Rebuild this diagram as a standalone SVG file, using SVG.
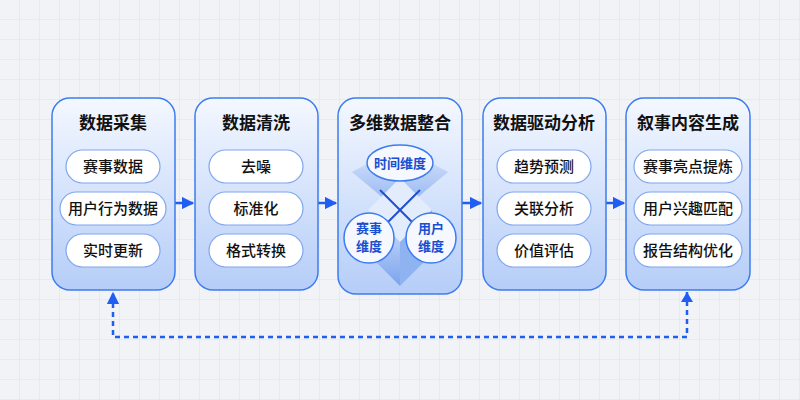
<svg xmlns="http://www.w3.org/2000/svg" width="800" height="400" viewBox="0 0 800 400">
<defs>
<pattern id="grid" width="20" height="20" patternUnits="userSpaceOnUse"><path d="M20 0V20H0" fill="none" stroke="#dde2ea" stroke-width="1"/></pattern>
<linearGradient id="box" x1="0" y1="0" x2="0" y2="1"><stop offset="0" stop-color="#f4f8ff"/><stop offset="1" stop-color="#b5cdf8"/></linearGradient>
<linearGradient id="face" x1="0" y1="0" x2="0" y2="1"><stop offset="0" stop-color="#dbe7fc"/><stop offset="1" stop-color="#7aa3ee"/></linearGradient>
<marker id="ah" viewBox="0 0 10 10" refX="9" refY="5" markerWidth="5" markerHeight="5" orient="auto"><path d="M0 0L10 5L0 10z" fill="#1f5ef0"/></marker>
<style>
.box{fill:url(#box);stroke:#3d7cf0;stroke-width:1.5}
.pill{fill:#fff;stroke:#7fa6ee;stroke-width:1.2}
.t{font-family:"Noto Sans CJK SC","Noto Sans",sans-serif;text-anchor:middle;fill:#111}
.h{font-size:17px;font-weight:700}
.p{font-size:15px;font-weight:500}
.b{font-size:13px;font-weight:700;fill:#1a4fd0}
.c{stroke:#1f5ef0;stroke-width:2.5;fill:none}
</style>
</defs>
<rect width="800" height="400" fill="#f1f3f7"/>
<rect width="800" height="400" fill="url(#grid)"/>
<g id="connectors">
<line class="c" x1="175" y1="203" x2="193" y2="203" marker-end="url(#ah)"/>
<line class="c" x1="318" y1="203" x2="336" y2="203" marker-end="url(#ah)"/>
<line class="c" x1="462" y1="203" x2="481" y2="203" marker-end="url(#ah)"/>
<line class="c" x1="606" y1="203" x2="624" y2="203" marker-end="url(#ah)"/>
<path class="c" d="M687 292V337H113V293" stroke-width="2" stroke-dasharray="5 4" marker-end="url(#ah)"/>
<path d="M687 292l-6 10h12z" fill="#1f5ef0"/>
</g>
<g id="n1"><rect class="box" x="52" y="98" width="123" height="192" rx="18"/>
<text class="t h" x="113" y="129">数据采集</text>
<rect class="pill" x="66" y="150" width="94" height="33" rx="16.5"/><text class="t p" x="113" y="172">赛事数据</text>
<rect class="pill" x="60" y="192" width="106" height="33" rx="16.5"/><text class="t p" x="113" y="214">用户行为数据</text>
<rect class="pill" x="66" y="234" width="94" height="33" rx="16.5"/><text class="t p" x="113" y="256">实时更新</text></g>
<g id="n2"><rect class="box" x="195" y="98" width="123" height="192" rx="18"/>
<text class="t h" x="256" y="129">数据清洗</text>
<rect class="pill" x="209" y="150" width="94" height="33" rx="16.5"/><text class="t p" x="256" y="172">去噪</text>
<rect class="pill" x="209" y="192" width="94" height="33" rx="16.5"/><text class="t p" x="256" y="214">标准化</text>
<rect class="pill" x="209" y="234" width="94" height="33" rx="16.5"/><text class="t p" x="256" y="256">格式转换</text></g>
<g id="n3"><rect class="box" x="338" y="98" width="124" height="196" rx="18"/>
<text class="t h" x="400" y="129">多维数据整合</text>
<path d="M400 146L448 172L400 212L352 172z" fill="url(#face)" opacity="0.8"/>
<path d="M400 178L432 210L400 242L368 210z" fill="#e3ecfc"/>
<path d="M368 210L400 242V286L366 252z" fill="url(#face)"/>
<path d="M432 210L400 242V286L434 252z" fill="#8fb2f0"/>
<line x1="380" y1="190" x2="420" y2="230" stroke="#1f4fd0" stroke-width="2"/>
<line x1="420" y1="190" x2="380" y2="230" stroke="#1f4fd0" stroke-width="2"/>
<ellipse cx="400" cy="163" rx="33" ry="18" fill="#f5f8ff" stroke="#3d7cf0" stroke-width="1.5"/><text class="t b" x="400" y="168">时间维度</text>
<circle cx="369" cy="238" r="25" fill="#f5f8ff" stroke="#3d7cf0" stroke-width="1.5"/><text class="t b" x="369" y="233">赛事</text><text class="t b" x="369" y="251">维度</text>
<circle cx="431" cy="238" r="25" fill="#f5f8ff" stroke="#3d7cf0" stroke-width="1.5"/><text class="t b" x="431" y="233">用户</text><text class="t b" x="431" y="251">维度</text></g>
<g id="n4"><rect class="box" x="483" y="98" width="123" height="192" rx="18"/>
<text class="t h" x="544" y="129">数据驱动分析</text>
<rect class="pill" x="497" y="150" width="94" height="33" rx="16.5"/><text class="t p" x="544" y="172">趋势预测</text>
<rect class="pill" x="497" y="192" width="94" height="33" rx="16.5"/><text class="t p" x="544" y="214">关联分析</text>
<rect class="pill" x="497" y="234" width="94" height="33" rx="16.5"/><text class="t p" x="544" y="256">价值评估</text></g>
<g id="n5"><rect class="box" x="626" y="98" width="124" height="192" rx="18"/>
<text class="t h" x="688" y="129">叙事内容生成</text>
<rect class="pill" x="634" y="150" width="108" height="33" rx="16.5"/><text class="t p" x="688" y="172">赛事亮点提炼</text>
<rect class="pill" x="634" y="192" width="108" height="33" rx="16.5"/><text class="t p" x="688" y="214">用户兴趣匹配</text>
<rect class="pill" x="634" y="234" width="108" height="33" rx="16.5"/><text class="t p" x="688" y="256">报告结构优化</text></g>
</svg>
